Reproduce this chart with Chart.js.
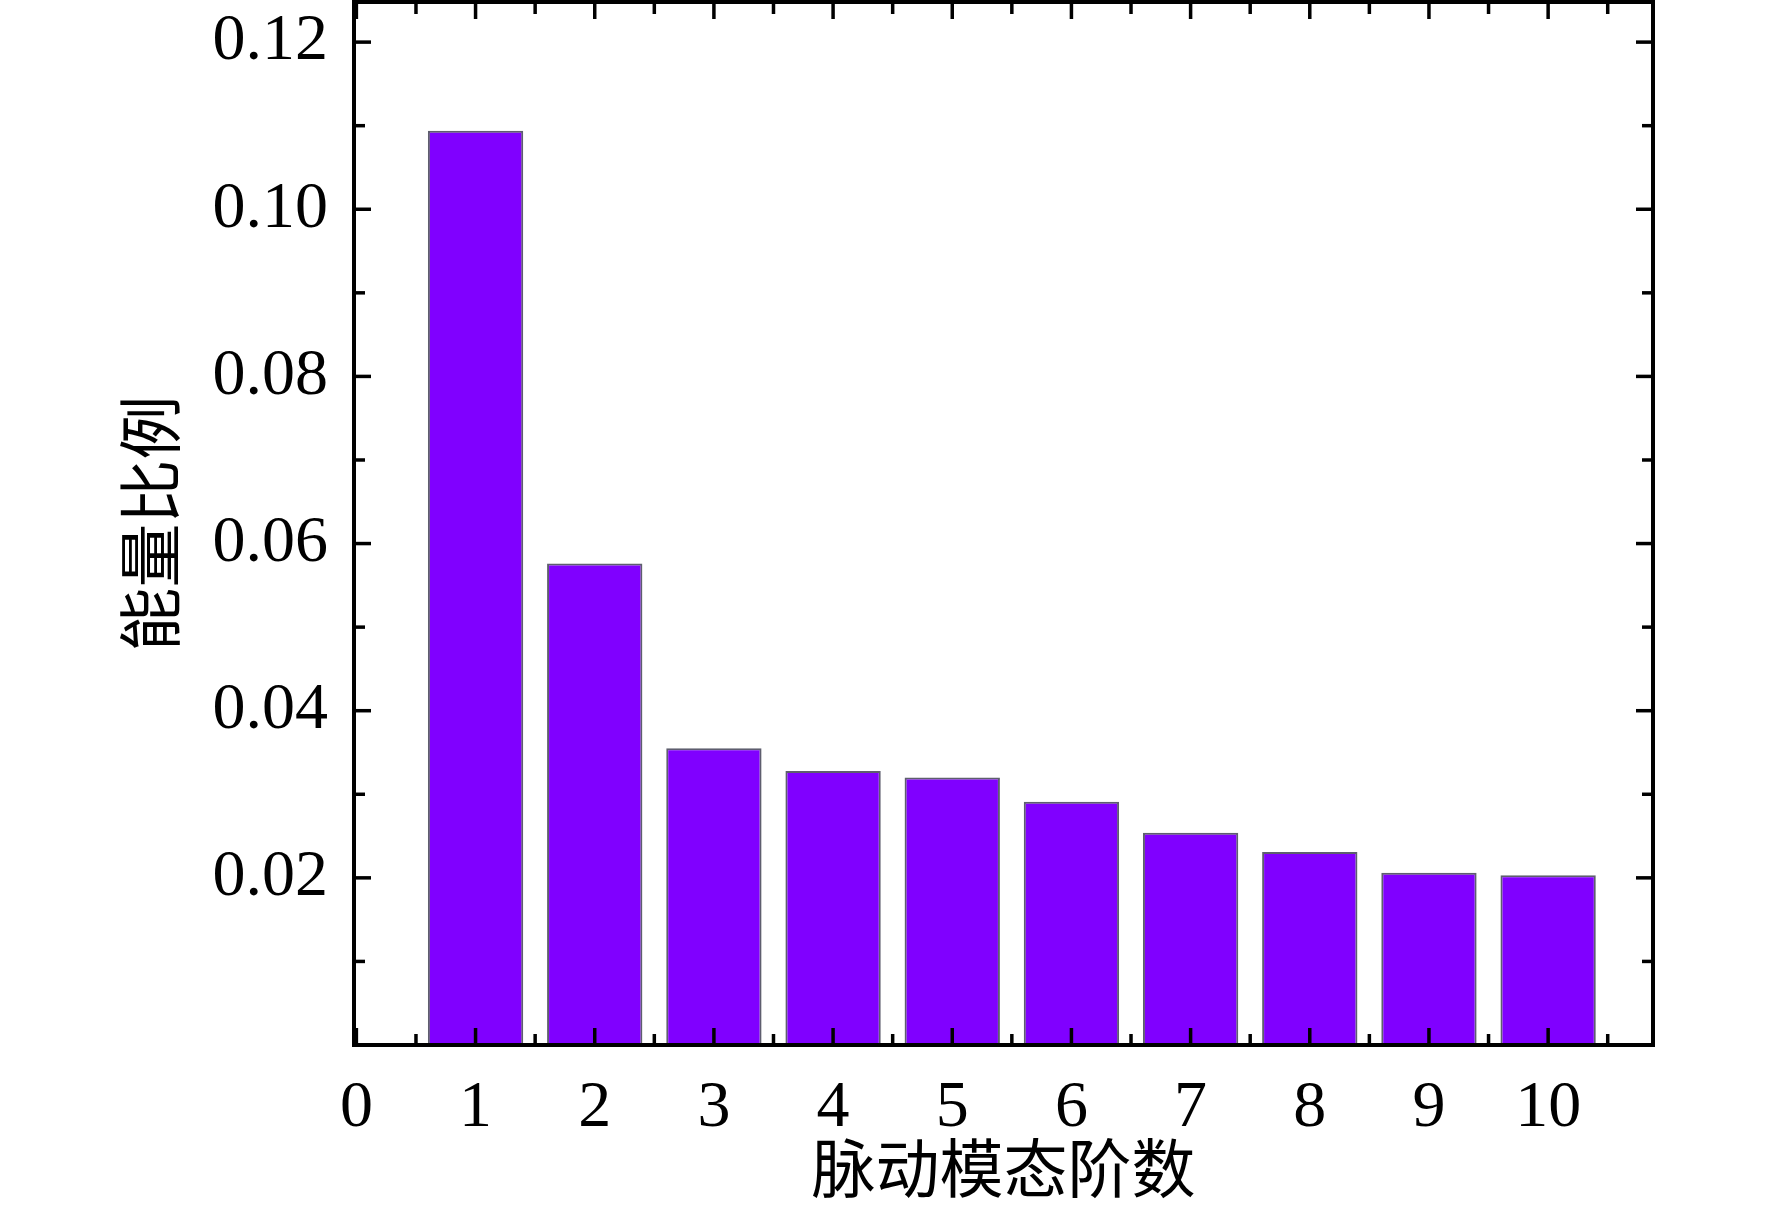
<!DOCTYPE html>
<html>
<head>
<meta charset="utf-8">
<script src="https://cdn.jsdelivr.net/npm/chart.js@4.4.1/dist/chart.umd.min.js"></script>
<style>
  html, body { margin: 0; padding: 0; background: #fff; }
  #wrap { width: 1772px; height: 1226px; }
</style>
</head>
<body>
<div id="wrap"><canvas id="myChart"></canvas></div>
<script>
const modes = [1, 2, 3, 4, 5, 6, 7, 8, 9, 10];
const energy = [0.1094, 0.0576, 0.0355, 0.0328, 0.0320, 0.0291, 0.0254, 0.0231, 0.0206, 0.0203];

const xTicks = [0, 1, 2, 3, 4, 5, 6, 7, 8, 9, 10];
const xMinor = [0.5, 1.5, 2.5, 3.5, 4.5, 5.5, 6.5, 7.5, 8.5, 9.5, 10.5];
const yTicks = [0.02, 0.04, 0.06, 0.08, 0.10, 0.12];
const yMinor = [0.01, 0.03, 0.05, 0.07, 0.09, 0.11];

const serif = "'Liberation Serif', 'Times New Roman', serif";
const cjk = "'Liberation Serif', 'Noto Sans CJK SC', serif";

// box round the plot with inward ticks on all four sides
const frame = {
  id: "frame",
  afterDatasetsDraw(chart) {
    const { ctx, chartArea: a, scales: { x, y } } = chart;
    const line = (x1, y1, x2, y2) => {
      ctx.beginPath();
      ctx.moveTo(x1, y1);
      ctx.lineTo(x2, y2);
      ctx.stroke();
    };
    ctx.save();
    ctx.strokeStyle = "#000";
    ctx.lineWidth = 3.5;
    xTicks.forEach((v) => {
      const px = x.getPixelForValue(v);
      line(px, a.bottom, px, a.bottom - 17);
      line(px, a.top, px, a.top + 17);
    });
    xMinor.forEach((v) => {
      const px = x.getPixelForValue(v);
      line(px, a.bottom, px, a.bottom - 11);
      line(px, a.top, px, a.top + 12);
    });
    yTicks.forEach((v) => {
      const py = y.getPixelForValue(v);
      line(a.left, py, a.left + 17, py);
      line(a.right, py, a.right - 17, py);
    });
    yMinor.forEach((v) => {
      const py = y.getPixelForValue(v);
      line(a.left, py, a.left + 11, py);
      line(a.right, py, a.right - 11, py);
    });
    ctx.lineWidth = 4;
    ctx.strokeRect(a.left, a.top, a.right - a.left, a.bottom - a.top);
    ctx.restore();
  },
};

const data = {
  datasets: [
    {
      label: "能量比例",
      data: modes.map((m, i) => ({ x: m, y: energy[i] })),
      backgroundColor: "#8000ff",
      borderColor: "#5e5e6e",
      borderWidth: 2,
      barPercentage: 0.8,
      categoryPercentage: 1.0,
    },
  ],
};

const config = {
  type: "bar",
  data: data,
  options: {
    responsive: true,
    maintainAspectRatio: false,
    animation: false,
    layout: { padding: { left: 115, top: 2, right: 119, bottom: 6 } },
    plugins: { legend: { display: false }, tooltip: { enabled: false } },
    scales: {
      x: {
        type: "linear",
        offset: false,
        min: -0.02,
        max: 10.88,
        afterBuildTicks: (s) => { s.ticks = xTicks.map((v) => ({ value: v })); },
        afterFit: (s) => {
          s.height = 1226 - 1045 - 6;
          s.paddingLeft = 0;
          s.paddingRight = 0;
        },
        grid: { display: false, drawTicks: false },
        border: { display: false },
        ticks: {
          color: "#000",
          padding: 24,
          maxRotation: 0,
          font: { family: serif, size: 66 },
          callback: (v) => String(v),
        },
        title: {
          display: true,
          text: "脉动模态阶数",
          color: "#000",
          padding: { top: 0, bottom: 6 },
          font: { family: cjk, size: 64 },
        },
      },
      y: {
        min: 0,
        max: 0.1248,
        afterBuildTicks: (s) => { s.ticks = yTicks.map((v) => ({ value: v })); },
        afterFit: (s) => {
          s.width = 354 - 115;
          s.paddingTop = 0;
          s.paddingBottom = 0;
        },
        grid: { display: false, drawTicks: false },
        border: { display: false },
        ticks: {
          color: "#000",
          padding: 26,
          font: { family: serif, size: 66 },
          callback: (v) => v.toFixed(2),
        },
        title: {
          display: true,
          text: "能量比例",
          color: "#000",
          padding: { top: 4, bottom: 0 },
          font: { family: cjk, size: 64 },
        },
      },
    },
  },
  plugins: [frame],
};

const myChart = new Chart(document.getElementById("myChart"), config);
</script>
</body>
</html>
